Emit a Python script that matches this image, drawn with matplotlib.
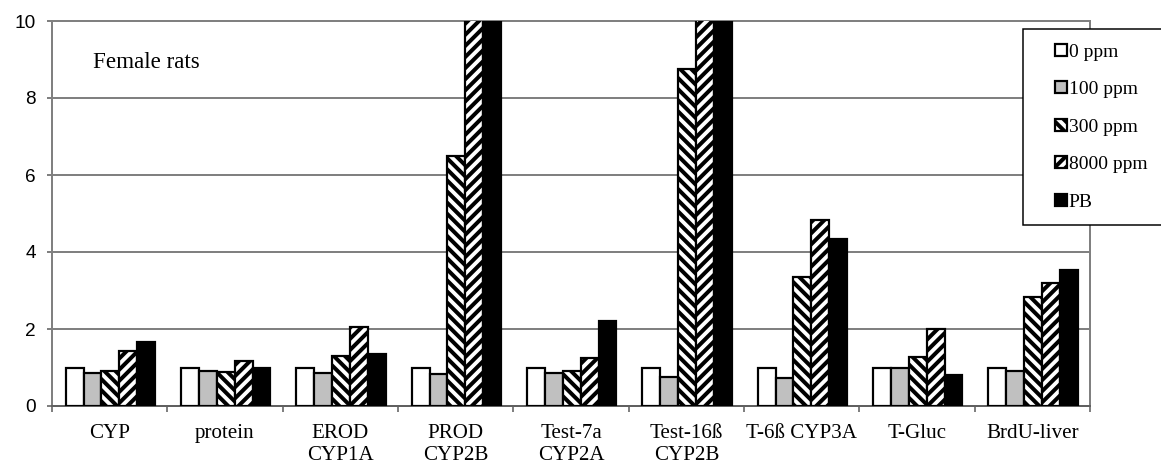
import numpy as np
import matplotlib
matplotlib.use("Agg")
import matplotlib.pyplot as plt
from matplotlib.patches import Patch, Rectangle
from matplotlib.legend_handler import HandlerPatch

DPI = 200


def px(n):
    # pixel size -> points at the save dpi
    return n * 72.0 / DPI


categories = ["CYP", "protein", "EROD\nCYP1A", "PROD\nCYP2B", "Test-7a\nCYP2A",
              "Test-16ß\nCYP2B", "T-6ß CYP3A", "T-Gluc", "BrdU-liver"]
series_names = ["0 ppm", "100 ppm", "300 ppm", "8000 ppm", "PB"]

ppm0 = [1.0, 1.0, 1.0, 1.0, 1.0, 1.0, 1.0, 1.0, 1.0]
ppm100 = [0.85, 0.92, 0.87, 0.82, 0.86, 0.76, 0.72, 0.99, 0.92]
ppm300 = [0.91, 0.88, 1.30, 6.49, 0.91, 8.76, 3.36, 1.28, 2.82]
ppm8000 = [1.44, 1.17, 2.06, 12.0, 1.24, 12.0, 4.83, 2.0, 3.19]
pb = [1.65, 0.98, 1.34, 15.0, 2.21, 15.0, 4.33, 0.80, 3.53]

plt.rcParams['hatch.linewidth'] = px(4)

fig = plt.figure(figsize=(1161 / DPI, 463 / DPI), dpi=DPI)
ax = fig.add_axes([52 / 1161, 1 - 406 / 463, 1038 / 1161, 385 / 463])

values = [ppm0, ppm100, ppm300, ppm8000, pb]
faces = ["white", "#c0c0c0", "white", "white", "black"]
hatches = [None, None, "\\" * 6, "/" * 6, None]
x = np.arange(len(categories))
w = 0.155
for i, vals in enumerate(values):
    ax.bar(x + (i - 2) * w + 0.006, vals, w, color=faces[i], edgecolor="black",
           linewidth=px(2.2), hatch=hatches[i], zorder=3)

ax.set_xlim(-0.5, len(categories) - 0.5)
ax.set_ylim(0, 10)
ax.set_yticks([0, 2, 4, 6, 8, 10])
ax.yaxis.grid(True, color="#808080", linewidth=px(2), zorder=0)
for s in ax.spines.values():
    s.set_color("#808080")
    s.set_linewidth(px(2))
ax.spines["bottom"].set_color("#606060")

ax.set_xticks(x)
ax.set_xticklabels(categories, fontfamily="Liberation Serif", fontsize=px(21),
                   linespacing=1.2)
ax.set_xticks(np.arange(len(categories) + 1) - 0.5, minor=True)
ax.tick_params(axis="x", which="major", length=0, pad=px(18))
ax.tick_params(axis="x", which="minor", length=px(6), width=px(2), color="#808080")
ax.tick_params(axis="y", length=px(5), width=px(2), color="#808080", pad=px(11))
for lab in ax.get_yticklabels():
    lab.set_fontfamily("Liberation Sans")
    lab.set_fontsize(px(19))

ax.text(0.0395, 0.893, "Female rats", transform=ax.transAxes, va="center", ha="left",
        fontfamily="Liberation Serif", fontsize=px(23))


def square(legend, orig_handle, xdescent, ydescent, width, height, fontsize):
    s = height
    return Rectangle((width - s - xdescent, -ydescent), s, s)


handles = [Patch(facecolor=faces[i], edgecolor="black", linewidth=px(2.2), hatch=hatches[i])
           for i in range(5)]
leg = fig.legend(handles, series_names, loc="upper left",
                 bbox_to_anchor=(1023 / 1161, 1 - 29 / 463, 160 / 1161, 0.0),
                 bbox_transform=fig.transFigure, mode="expand",
                 prop={"family": "Liberation Serif", "size": px(19.5)},
                 handler_map={Patch: HandlerPatch(patch_func=square)},
                 handlelength=1.5, handleheight=0.55, handletextpad=0.1,
                 labelspacing=1.05, borderpad=0.75, borderaxespad=0,
                 fancybox=False, framealpha=1)
leg.get_frame().set_edgecolor("black")
leg.get_frame().set_linewidth(px(1.5))

fig.savefig("out.png", dpi=DPI)
